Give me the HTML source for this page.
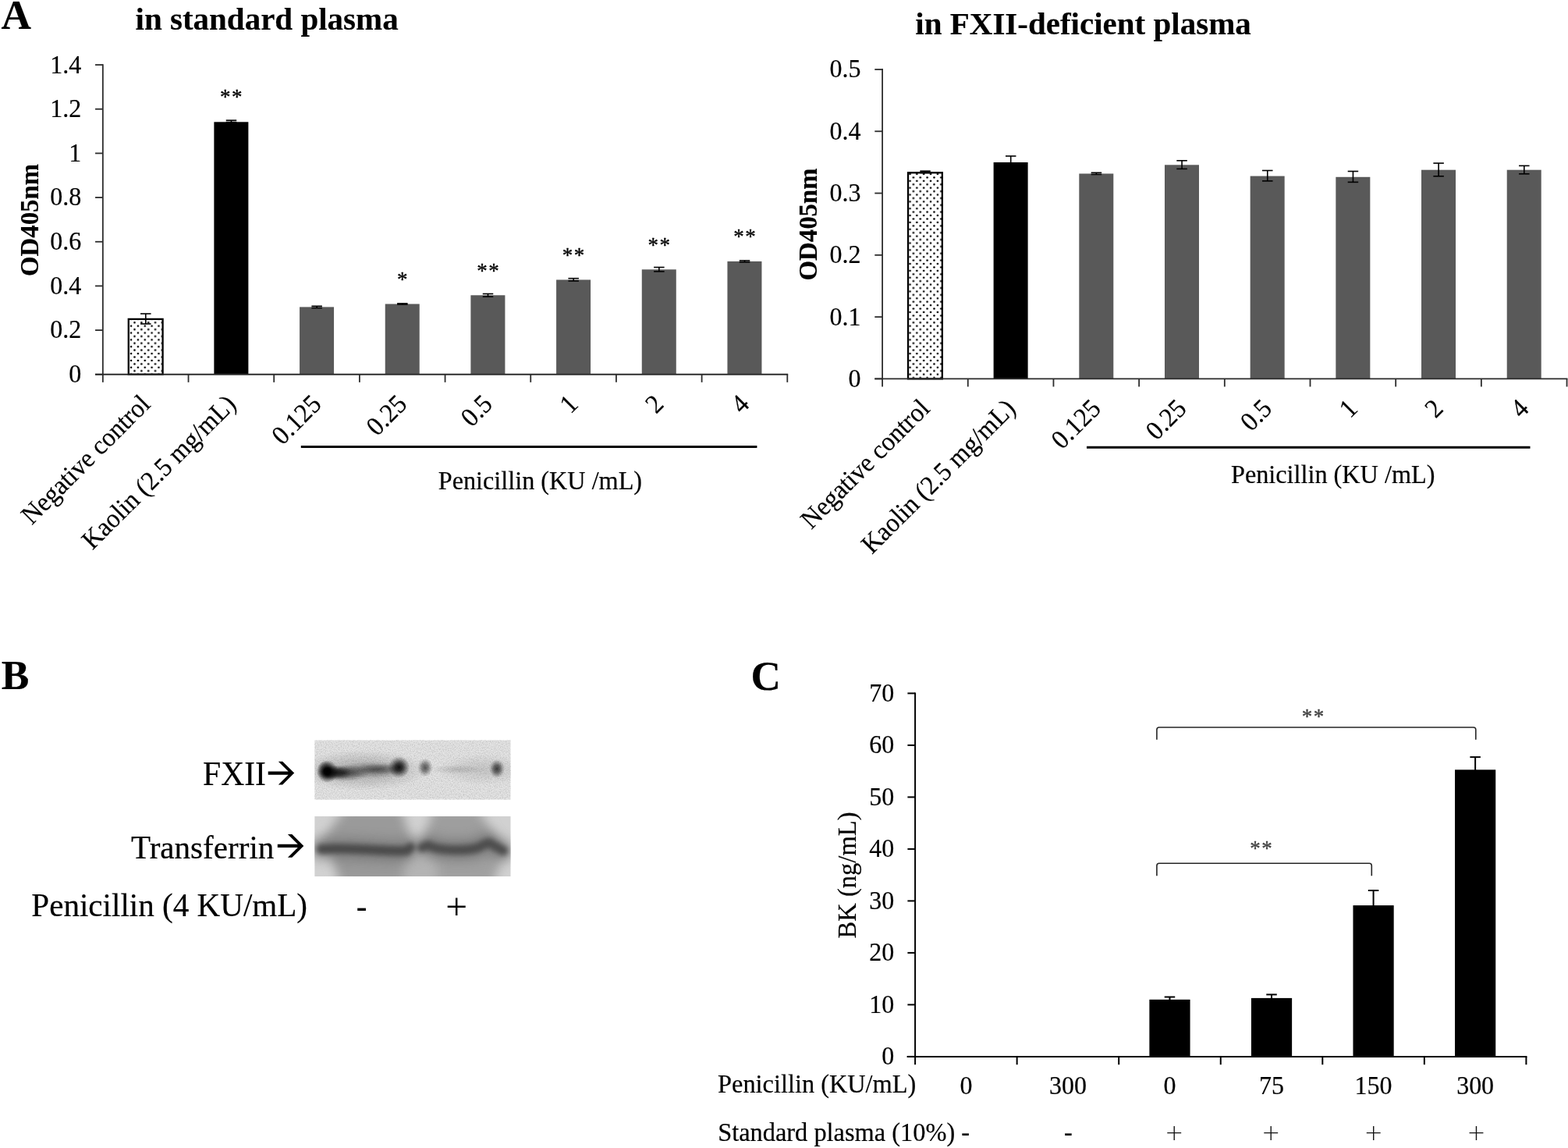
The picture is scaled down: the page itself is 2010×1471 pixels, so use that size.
<!DOCTYPE html>
<html lang="en">
<head>
<meta charset="utf-8">
<title>Figure: Penicillin activates FXII and bradykinin release</title>
<style>
html,body{margin:0;padding:0;background:#fff;}
body{width:2010px;height:1471px;overflow:hidden;}
svg{display:block;}
svg text{font-family:'Liberation Serif','DejaVu Serif',serif;stroke-linejoin:round;}
</style>
</head>
<body>
<svg width="2010" height="1471" viewBox="0 0 2010 1471">
<defs>
<pattern id="dots" x="168.06" y="408.85" width="8.85" height="8.85" patternUnits="userSpaceOnUse">
<rect width="8.85" height="8.85" fill="#fff"/>
<circle cx="0" cy="0" r="1.35" fill="#000"/><circle cx="8.85" cy="0" r="1.35" fill="#000"/><circle cx="0" cy="8.85" r="1.35" fill="#000"/><circle cx="8.85" cy="8.85" r="1.35" fill="#000"/>
<circle cx="4.425" cy="4.425" r="1.35" fill="#000"/>
</pattern>
<pattern id="dots2" x="1166.5" y="223.0" width="8.85" height="8.85" patternUnits="userSpaceOnUse">
<rect width="8.85" height="8.85" fill="#fff"/>
<circle cx="0" cy="0" r="1.35" fill="#000"/><circle cx="8.85" cy="0" r="1.35" fill="#000"/><circle cx="0" cy="8.85" r="1.35" fill="#000"/><circle cx="8.85" cy="8.85" r="1.35" fill="#000"/>
<circle cx="4.425" cy="4.425" r="1.35" fill="#000"/>
</pattern>
<radialGradient id="gk"><stop offset="0" stop-color="#000" stop-opacity="1"/><stop offset="0.3" stop-color="#000" stop-opacity="0.95"/><stop offset="0.6" stop-color="#000" stop-opacity="0.55"/><stop offset="1" stop-color="#000" stop-opacity="0"/></radialGradient>
<radialGradient id="gd"><stop offset="0" stop-color="#000" stop-opacity="0.9"/><stop offset="0.35" stop-color="#000" stop-opacity="0.7"/><stop offset="0.7" stop-color="#000" stop-opacity="0.3"/><stop offset="1" stop-color="#000" stop-opacity="0"/></radialGradient>
<radialGradient id="gm"><stop offset="0" stop-color="#000" stop-opacity="0.6"/><stop offset="0.4" stop-color="#000" stop-opacity="0.42"/><stop offset="0.75" stop-color="#000" stop-opacity="0.15"/><stop offset="1" stop-color="#000" stop-opacity="0"/></radialGradient>
<radialGradient id="gl"><stop offset="0" stop-color="#000" stop-opacity="0.35"/><stop offset="0.5" stop-color="#000" stop-opacity="0.2"/><stop offset="1" stop-color="#000" stop-opacity="0"/></radialGradient>
<radialGradient id="gf"><stop offset="0" stop-color="#000" stop-opacity="0.12"/><stop offset="0.5" stop-color="#000" stop-opacity="0.07"/><stop offset="1" stop-color="#000" stop-opacity="0"/></radialGradient>
<radialGradient id="gh"><stop offset="0" stop-color="#000" stop-opacity="0.22"/><stop offset="0.5" stop-color="#000" stop-opacity="0.14"/><stop offset="1" stop-color="#000" stop-opacity="0"/></radialGradient>
<radialGradient id="g7"><stop offset="0" stop-color="#000" stop-opacity="0.7"/><stop offset="0.4" stop-color="#000" stop-opacity="0.5"/><stop offset="0.75" stop-color="#000" stop-opacity="0.18"/><stop offset="1" stop-color="#000" stop-opacity="0"/></radialGradient>
<filter id="b3" filterUnits="userSpaceOnUse" x="370" y="1010" width="320" height="150"><feGaussianBlur stdDeviation="3"/></filter>
<filter id="b4" filterUnits="userSpaceOnUse" x="370" y="1010" width="320" height="150"><feGaussianBlur stdDeviation="4.5"/></filter>
<filter id="b7" filterUnits="userSpaceOnUse" x="370" y="1010" width="320" height="150"><feGaussianBlur stdDeviation="7"/></filter>
<filter id="noise" x="0" y="0" width="100%" height="100%"><feTurbulence type="fractalNoise" baseFrequency="0.7" numOctaves="2" seed="7" result="n"/><feColorMatrix in="n" type="matrix" values="0 0 0 0 0  0 0 0 0 0  0 0 0 0 0  1.6 0 0 0 -0.62"/></filter>
<clipPath id="c1"><rect x="403.2" y="948.3" width="251.5" height="76.5"/></clipPath>
<clipPath id="c2"><rect x="403.2" y="1046" width="251.5" height="77"/></clipPath>
</defs>
<rect width="2010" height="1471" fill="#fff"/>

<text x="1.60" y="37.30" font-size="53.3" text-anchor="start" font-weight="bold" fill="#000" stroke="#000" stroke-width="0.15">A</text>
<text x="1.70" y="883.40" font-size="53.3" text-anchor="start" font-weight="bold" fill="#000" stroke="#000" stroke-width="0.15">B</text>
<text x="962.40" y="883.50" font-size="53.3" text-anchor="start" font-weight="bold" fill="#000" stroke="#000" stroke-width="0.15">C</text>
<line x1="131.85" y1="82.20" x2="131.85" y2="480.65" stroke="#2c2c2c" stroke-width="1.8" stroke-linecap="butt"/>
<line x1="122.05" y1="479.75" x2="131.85" y2="479.75" stroke="#2c2c2c" stroke-width="1.8" stroke-linecap="butt"/>
<text x="0" y="0" transform="translate(104.25 490.15) scale(1 1.05)" font-size="32" text-anchor="end" fill="#000" stroke="#000" stroke-width="0.2">0</text>
<line x1="122.05" y1="423.09" x2="131.85" y2="423.09" stroke="#2c2c2c" stroke-width="1.8" stroke-linecap="butt"/>
<text x="0" y="0" transform="translate(104.25 433.49) scale(1 1.05)" font-size="32" text-anchor="end" fill="#000" stroke="#000" stroke-width="0.2">0.2</text>
<line x1="122.05" y1="366.42" x2="131.85" y2="366.42" stroke="#2c2c2c" stroke-width="1.8" stroke-linecap="butt"/>
<text x="0" y="0" transform="translate(104.25 376.82) scale(1 1.05)" font-size="32" text-anchor="end" fill="#000" stroke="#000" stroke-width="0.2">0.4</text>
<line x1="122.05" y1="309.76" x2="131.85" y2="309.76" stroke="#2c2c2c" stroke-width="1.8" stroke-linecap="butt"/>
<text x="0" y="0" transform="translate(104.25 320.16) scale(1 1.05)" font-size="32" text-anchor="end" fill="#000" stroke="#000" stroke-width="0.2">0.6</text>
<line x1="122.05" y1="253.09" x2="131.85" y2="253.09" stroke="#2c2c2c" stroke-width="1.8" stroke-linecap="butt"/>
<text x="0" y="0" transform="translate(104.25 263.49) scale(1 1.05)" font-size="32" text-anchor="end" fill="#000" stroke="#000" stroke-width="0.2">0.8</text>
<line x1="122.05" y1="196.43" x2="131.85" y2="196.43" stroke="#2c2c2c" stroke-width="1.8" stroke-linecap="butt"/>
<text x="0" y="0" transform="translate(104.25 206.83) scale(1 1.05)" font-size="32" text-anchor="end" fill="#000" stroke="#000" stroke-width="0.2">1</text>
<line x1="122.05" y1="139.76" x2="131.85" y2="139.76" stroke="#2c2c2c" stroke-width="1.8" stroke-linecap="butt"/>
<text x="0" y="0" transform="translate(104.25 150.16) scale(1 1.05)" font-size="32" text-anchor="end" fill="#000" stroke="#000" stroke-width="0.2">1.2</text>
<line x1="122.05" y1="83.10" x2="131.85" y2="83.10" stroke="#2c2c2c" stroke-width="1.8" stroke-linecap="butt"/>
<text x="0" y="0" transform="translate(104.25 93.50) scale(1 1.05)" font-size="32" text-anchor="end" fill="#000" stroke="#000" stroke-width="0.2">1.4</text>
<rect x="164.79" y="408.90" width="43.80" height="70.85" fill="url(#dots)" stroke="#000" stroke-width="2.3"/>
<line x1="186.79" y1="402.00" x2="186.79" y2="415.00" stroke="#000" stroke-width="1.6" stroke-linecap="butt"/>
<line x1="180.04" y1="402.00" x2="193.54" y2="402.00" stroke="#000" stroke-width="1.6" stroke-linecap="butt"/>
<line x1="180.04" y1="415.00" x2="193.54" y2="415.00" stroke="#000" stroke-width="1.6" stroke-linecap="butt"/>
<rect x="274.37" y="156.30" width="44.00" height="323.45" fill="#000"/>
<line x1="296.47" y1="154.20" x2="296.47" y2="156.50" stroke="#000" stroke-width="1.6" stroke-linecap="butt"/>
<line x1="289.72" y1="154.20" x2="303.22" y2="154.20" stroke="#000" stroke-width="1.6" stroke-linecap="butt"/>
<line x1="289.72" y1="156.50" x2="303.22" y2="156.50" stroke="#000" stroke-width="1.6" stroke-linecap="butt"/>
<text x="297.12" y="133.24" font-size="27" text-anchor="middle" letter-spacing="1.5" fill="#000" stroke="#000" stroke-width="0.35">**</text>
<rect x="384.05" y="393.40" width="44.00" height="86.35" fill="#595959"/>
<line x1="406.15" y1="392.30" x2="406.15" y2="394.60" stroke="#000" stroke-width="1.6" stroke-linecap="butt"/>
<line x1="399.40" y1="392.30" x2="412.90" y2="392.30" stroke="#000" stroke-width="1.6" stroke-linecap="butt"/>
<line x1="399.40" y1="394.60" x2="412.90" y2="394.60" stroke="#000" stroke-width="1.6" stroke-linecap="butt"/>
<rect x="493.73" y="389.50" width="44.00" height="90.25" fill="#595959"/>
<line x1="515.83" y1="388.90" x2="515.83" y2="390.10" stroke="#000" stroke-width="1.6" stroke-linecap="butt"/>
<line x1="509.08" y1="388.90" x2="522.58" y2="388.90" stroke="#000" stroke-width="1.6" stroke-linecap="butt"/>
<line x1="509.08" y1="390.10" x2="522.58" y2="390.10" stroke="#000" stroke-width="1.6" stroke-linecap="butt"/>
<text x="516.48" y="366.74" font-size="27" text-anchor="middle" letter-spacing="1.5" fill="#000" stroke="#000" stroke-width="0.35">*</text>
<rect x="603.41" y="378.30" width="44.00" height="101.45" fill="#595959"/>
<line x1="625.51" y1="376.50" x2="625.51" y2="380.10" stroke="#000" stroke-width="1.6" stroke-linecap="butt"/>
<line x1="618.76" y1="376.50" x2="632.26" y2="376.50" stroke="#000" stroke-width="1.6" stroke-linecap="butt"/>
<line x1="618.76" y1="380.10" x2="632.26" y2="380.10" stroke="#000" stroke-width="1.6" stroke-linecap="butt"/>
<text x="626.16" y="355.74" font-size="27" text-anchor="middle" letter-spacing="1.5" fill="#000" stroke="#000" stroke-width="0.35">**</text>
<rect x="713.09" y="358.50" width="44.00" height="121.25" fill="#595959"/>
<line x1="735.19" y1="356.70" x2="735.19" y2="360.00" stroke="#000" stroke-width="1.6" stroke-linecap="butt"/>
<line x1="728.44" y1="356.70" x2="741.94" y2="356.70" stroke="#000" stroke-width="1.6" stroke-linecap="butt"/>
<line x1="728.44" y1="360.00" x2="741.94" y2="360.00" stroke="#000" stroke-width="1.6" stroke-linecap="butt"/>
<text x="735.84" y="335.94" font-size="27" text-anchor="middle" letter-spacing="1.5" fill="#000" stroke="#000" stroke-width="0.35">**</text>
<rect x="822.77" y="345.30" width="44.00" height="134.45" fill="#595959"/>
<line x1="844.87" y1="342.50" x2="844.87" y2="347.90" stroke="#000" stroke-width="1.6" stroke-linecap="butt"/>
<line x1="838.12" y1="342.50" x2="851.62" y2="342.50" stroke="#000" stroke-width="1.6" stroke-linecap="butt"/>
<line x1="838.12" y1="347.90" x2="851.62" y2="347.90" stroke="#000" stroke-width="1.6" stroke-linecap="butt"/>
<text x="845.52" y="323.24" font-size="27" text-anchor="middle" letter-spacing="1.5" fill="#000" stroke="#000" stroke-width="0.35">**</text>
<rect x="932.45" y="334.90" width="44.00" height="144.85" fill="#595959"/>
<line x1="954.55" y1="333.90" x2="954.55" y2="335.90" stroke="#000" stroke-width="1.6" stroke-linecap="butt"/>
<line x1="947.80" y1="333.90" x2="961.30" y2="333.90" stroke="#000" stroke-width="1.6" stroke-linecap="butt"/>
<line x1="947.80" y1="335.90" x2="961.30" y2="335.90" stroke="#000" stroke-width="1.6" stroke-linecap="butt"/>
<text x="955.20" y="312.34" font-size="27" text-anchor="middle" letter-spacing="1.5" fill="#000" stroke="#000" stroke-width="0.35">**</text>
<line x1="122.05" y1="479.75" x2="1010.19" y2="479.75" stroke="#2c2c2c" stroke-width="1.8" stroke-linecap="butt"/>
<line x1="131.85" y1="479.75" x2="131.85" y2="489.85" stroke="#2c2c2c" stroke-width="1.8" stroke-linecap="butt"/>
<line x1="241.53" y1="479.75" x2="241.53" y2="489.85" stroke="#2c2c2c" stroke-width="1.8" stroke-linecap="butt"/>
<line x1="351.21" y1="479.75" x2="351.21" y2="489.85" stroke="#2c2c2c" stroke-width="1.8" stroke-linecap="butt"/>
<line x1="460.89" y1="479.75" x2="460.89" y2="489.85" stroke="#2c2c2c" stroke-width="1.8" stroke-linecap="butt"/>
<line x1="570.57" y1="479.75" x2="570.57" y2="489.85" stroke="#2c2c2c" stroke-width="1.8" stroke-linecap="butt"/>
<line x1="680.25" y1="479.75" x2="680.25" y2="489.85" stroke="#2c2c2c" stroke-width="1.8" stroke-linecap="butt"/>
<line x1="789.93" y1="479.75" x2="789.93" y2="489.85" stroke="#2c2c2c" stroke-width="1.8" stroke-linecap="butt"/>
<line x1="899.61" y1="479.75" x2="899.61" y2="489.85" stroke="#2c2c2c" stroke-width="1.8" stroke-linecap="butt"/>
<line x1="1009.29" y1="479.75" x2="1009.29" y2="489.85" stroke="#2c2c2c" stroke-width="1.8" stroke-linecap="butt"/>
<text x="0" y="0" transform="translate(194.39 519.75) rotate(-45) scale(1 1.05)" font-size="32.5" text-anchor="end" fill="#000" stroke="#000" stroke-width="0.2">Negative control</text>
<text x="0" y="0" transform="translate(304.07 519.75) rotate(-45) scale(1 1.05)" font-size="32.5" text-anchor="end" fill="#000" stroke="#000" stroke-width="0.2">Kaolin (2.5 mg/mL)</text>
<text x="0" y="0" transform="translate(413.75 519.75) rotate(-45) scale(1 1.05)" font-size="32.5" text-anchor="end" fill="#000" stroke="#000" stroke-width="0.2">0.125</text>
<text x="0" y="0" transform="translate(523.43 519.75) rotate(-45) scale(1 1.05)" font-size="32.5" text-anchor="end" fill="#000" stroke="#000" stroke-width="0.2">0.25</text>
<text x="0" y="0" transform="translate(633.11 519.75) rotate(-45) scale(1 1.05)" font-size="32.5" text-anchor="end" fill="#000" stroke="#000" stroke-width="0.2">0.5</text>
<text x="0" y="0" transform="translate(742.79 519.75) rotate(-45) scale(1 1.05)" font-size="32.5" text-anchor="end" fill="#000" stroke="#000" stroke-width="0.2">1</text>
<text x="0" y="0" transform="translate(852.47 519.75) rotate(-45) scale(1 1.05)" font-size="32.5" text-anchor="end" fill="#000" stroke="#000" stroke-width="0.2">2</text>
<text x="0" y="0" transform="translate(962.15 519.75) rotate(-45) scale(1 1.05)" font-size="32.5" text-anchor="end" fill="#000" stroke="#000" stroke-width="0.2">4</text>
<line x1="385.80" y1="572.50" x2="970.40" y2="572.50" stroke="#000" stroke-width="3" stroke-linecap="butt"/>
<text x="0" y="0" transform="translate(561.70 627.30) scale(1 1.05)" font-size="32.25" text-anchor="start" fill="#000" stroke="#000" stroke-width="0.2">Penicillin (KU /mL)</text>
<text x="173.50" y="37.70" font-size="41" text-anchor="start" font-weight="bold" fill="#000" stroke="#000" stroke-width="0.15">in standard plasma</text>
<text x="0" y="0" transform="translate(48.60 282.00) rotate(-90) scale(1 1.02)" font-size="32.8" text-anchor="middle" font-weight="bold" fill="#000" stroke="#000" stroke-width="0.15">OD405nm</text>
<line x1="1131.10" y1="88.10" x2="1131.10" y2="486.30" stroke="#2c2c2c" stroke-width="1.8" stroke-linecap="butt"/>
<line x1="1121.30" y1="485.40" x2="1131.10" y2="485.40" stroke="#2c2c2c" stroke-width="1.8" stroke-linecap="butt"/>
<text x="0" y="0" transform="translate(1103.50 495.80) scale(1 1.05)" font-size="32" text-anchor="end" fill="#000" stroke="#000" stroke-width="0.2">0</text>
<line x1="1121.30" y1="406.12" x2="1131.10" y2="406.12" stroke="#2c2c2c" stroke-width="1.8" stroke-linecap="butt"/>
<text x="0" y="0" transform="translate(1103.50 416.52) scale(1 1.05)" font-size="32" text-anchor="end" fill="#000" stroke="#000" stroke-width="0.2">0.1</text>
<line x1="1121.30" y1="326.84" x2="1131.10" y2="326.84" stroke="#2c2c2c" stroke-width="1.8" stroke-linecap="butt"/>
<text x="0" y="0" transform="translate(1103.50 337.24) scale(1 1.05)" font-size="32" text-anchor="end" fill="#000" stroke="#000" stroke-width="0.2">0.2</text>
<line x1="1121.30" y1="247.56" x2="1131.10" y2="247.56" stroke="#2c2c2c" stroke-width="1.8" stroke-linecap="butt"/>
<text x="0" y="0" transform="translate(1103.50 257.96) scale(1 1.05)" font-size="32" text-anchor="end" fill="#000" stroke="#000" stroke-width="0.2">0.3</text>
<line x1="1121.30" y1="168.28" x2="1131.10" y2="168.28" stroke="#2c2c2c" stroke-width="1.8" stroke-linecap="butt"/>
<text x="0" y="0" transform="translate(1103.50 178.68) scale(1 1.05)" font-size="32" text-anchor="end" fill="#000" stroke="#000" stroke-width="0.2">0.4</text>
<line x1="1121.30" y1="89.00" x2="1131.10" y2="89.00" stroke="#2c2c2c" stroke-width="1.8" stroke-linecap="butt"/>
<text x="0" y="0" transform="translate(1103.50 99.40) scale(1 1.05)" font-size="32" text-anchor="end" fill="#000" stroke="#000" stroke-width="0.2">0.5</text>
<rect x="1164.04" y="221.30" width="43.80" height="264.10" fill="url(#dots2)" stroke="#000" stroke-width="2.3"/>
<line x1="1186.04" y1="219.20" x2="1186.04" y2="221.40" stroke="#000" stroke-width="1.6" stroke-linecap="butt"/>
<line x1="1179.29" y1="219.20" x2="1192.79" y2="219.20" stroke="#000" stroke-width="1.6" stroke-linecap="butt"/>
<line x1="1179.29" y1="221.40" x2="1192.79" y2="221.40" stroke="#000" stroke-width="1.6" stroke-linecap="butt"/>
<rect x="1273.62" y="208.00" width="44.00" height="277.40" fill="#000"/>
<line x1="1295.72" y1="200.00" x2="1295.72" y2="216.00" stroke="#000" stroke-width="1.6" stroke-linecap="butt"/>
<line x1="1288.97" y1="200.00" x2="1302.47" y2="200.00" stroke="#000" stroke-width="1.6" stroke-linecap="butt"/>
<line x1="1288.97" y1="216.00" x2="1302.47" y2="216.00" stroke="#000" stroke-width="1.6" stroke-linecap="butt"/>
<rect x="1383.30" y="222.50" width="44.00" height="262.90" fill="#595959"/>
<line x1="1405.40" y1="221.30" x2="1405.40" y2="223.50" stroke="#000" stroke-width="1.6" stroke-linecap="butt"/>
<line x1="1398.65" y1="221.30" x2="1412.15" y2="221.30" stroke="#000" stroke-width="1.6" stroke-linecap="butt"/>
<line x1="1398.65" y1="223.50" x2="1412.15" y2="223.50" stroke="#000" stroke-width="1.6" stroke-linecap="butt"/>
<rect x="1492.98" y="211.30" width="44.00" height="274.10" fill="#595959"/>
<line x1="1515.08" y1="205.80" x2="1515.08" y2="216.40" stroke="#000" stroke-width="1.6" stroke-linecap="butt"/>
<line x1="1508.33" y1="205.80" x2="1521.83" y2="205.80" stroke="#000" stroke-width="1.6" stroke-linecap="butt"/>
<line x1="1508.33" y1="216.40" x2="1521.83" y2="216.40" stroke="#000" stroke-width="1.6" stroke-linecap="butt"/>
<rect x="1602.66" y="225.60" width="44.00" height="259.80" fill="#595959"/>
<line x1="1624.76" y1="218.50" x2="1624.76" y2="231.90" stroke="#000" stroke-width="1.6" stroke-linecap="butt"/>
<line x1="1618.01" y1="218.50" x2="1631.51" y2="218.50" stroke="#000" stroke-width="1.6" stroke-linecap="butt"/>
<line x1="1618.01" y1="231.90" x2="1631.51" y2="231.90" stroke="#000" stroke-width="1.6" stroke-linecap="butt"/>
<rect x="1712.34" y="226.80" width="44.00" height="258.60" fill="#595959"/>
<line x1="1734.44" y1="219.50" x2="1734.44" y2="233.40" stroke="#000" stroke-width="1.6" stroke-linecap="butt"/>
<line x1="1727.69" y1="219.50" x2="1741.19" y2="219.50" stroke="#000" stroke-width="1.6" stroke-linecap="butt"/>
<line x1="1727.69" y1="233.40" x2="1741.19" y2="233.40" stroke="#000" stroke-width="1.6" stroke-linecap="butt"/>
<rect x="1822.02" y="217.70" width="44.00" height="267.70" fill="#595959"/>
<line x1="1844.12" y1="209.10" x2="1844.12" y2="225.80" stroke="#000" stroke-width="1.6" stroke-linecap="butt"/>
<line x1="1837.37" y1="209.10" x2="1850.87" y2="209.10" stroke="#000" stroke-width="1.6" stroke-linecap="butt"/>
<line x1="1837.37" y1="225.80" x2="1850.87" y2="225.80" stroke="#000" stroke-width="1.6" stroke-linecap="butt"/>
<rect x="1931.70" y="217.70" width="44.00" height="267.70" fill="#595959"/>
<line x1="1953.80" y1="212.40" x2="1953.80" y2="222.80" stroke="#000" stroke-width="1.6" stroke-linecap="butt"/>
<line x1="1947.05" y1="212.40" x2="1960.55" y2="212.40" stroke="#000" stroke-width="1.6" stroke-linecap="butt"/>
<line x1="1947.05" y1="222.80" x2="1960.55" y2="222.80" stroke="#000" stroke-width="1.6" stroke-linecap="butt"/>
<line x1="1121.30" y1="485.40" x2="2009.44" y2="485.40" stroke="#2c2c2c" stroke-width="1.8" stroke-linecap="butt"/>
<line x1="1131.10" y1="485.40" x2="1131.10" y2="495.50" stroke="#2c2c2c" stroke-width="1.8" stroke-linecap="butt"/>
<line x1="1240.78" y1="485.40" x2="1240.78" y2="495.50" stroke="#2c2c2c" stroke-width="1.8" stroke-linecap="butt"/>
<line x1="1350.46" y1="485.40" x2="1350.46" y2="495.50" stroke="#2c2c2c" stroke-width="1.8" stroke-linecap="butt"/>
<line x1="1460.14" y1="485.40" x2="1460.14" y2="495.50" stroke="#2c2c2c" stroke-width="1.8" stroke-linecap="butt"/>
<line x1="1569.82" y1="485.40" x2="1569.82" y2="495.50" stroke="#2c2c2c" stroke-width="1.8" stroke-linecap="butt"/>
<line x1="1679.50" y1="485.40" x2="1679.50" y2="495.50" stroke="#2c2c2c" stroke-width="1.8" stroke-linecap="butt"/>
<line x1="1789.18" y1="485.40" x2="1789.18" y2="495.50" stroke="#2c2c2c" stroke-width="1.8" stroke-linecap="butt"/>
<line x1="1898.86" y1="485.40" x2="1898.86" y2="495.50" stroke="#2c2c2c" stroke-width="1.8" stroke-linecap="butt"/>
<line x1="2008.54" y1="485.40" x2="2008.54" y2="495.50" stroke="#2c2c2c" stroke-width="1.8" stroke-linecap="butt"/>
<text x="0" y="0" transform="translate(1193.64 525.40) rotate(-45) scale(1 1.05)" font-size="32.5" text-anchor="end" fill="#000" stroke="#000" stroke-width="0.2">Negative control</text>
<text x="0" y="0" transform="translate(1303.32 525.40) rotate(-45) scale(1 1.05)" font-size="32.5" text-anchor="end" fill="#000" stroke="#000" stroke-width="0.2">Kaolin (2.5 mg/mL)</text>
<text x="0" y="0" transform="translate(1413.00 525.40) rotate(-45) scale(1 1.05)" font-size="32.5" text-anchor="end" fill="#000" stroke="#000" stroke-width="0.2">0.125</text>
<text x="0" y="0" transform="translate(1522.68 525.40) rotate(-45) scale(1 1.05)" font-size="32.5" text-anchor="end" fill="#000" stroke="#000" stroke-width="0.2">0.25</text>
<text x="0" y="0" transform="translate(1632.36 525.40) rotate(-45) scale(1 1.05)" font-size="32.5" text-anchor="end" fill="#000" stroke="#000" stroke-width="0.2">0.5</text>
<text x="0" y="0" transform="translate(1742.04 525.40) rotate(-45) scale(1 1.05)" font-size="32.5" text-anchor="end" fill="#000" stroke="#000" stroke-width="0.2">1</text>
<text x="0" y="0" transform="translate(1851.72 525.40) rotate(-45) scale(1 1.05)" font-size="32.5" text-anchor="end" fill="#000" stroke="#000" stroke-width="0.2">2</text>
<text x="0" y="0" transform="translate(1961.40 525.40) rotate(-45) scale(1 1.05)" font-size="32.5" text-anchor="end" fill="#000" stroke="#000" stroke-width="0.2">4</text>
<line x1="1393.00" y1="573.20" x2="1961.50" y2="573.20" stroke="#000" stroke-width="3" stroke-linecap="butt"/>
<text x="0" y="0" transform="translate(1578.00 619.40) scale(1 1.05)" font-size="32.25" text-anchor="start" fill="#000" stroke="#000" stroke-width="0.2">Penicillin (KU /mL)</text>
<text x="1173.30" y="43.50" font-size="41" text-anchor="start" font-weight="bold" fill="#000" stroke="#000" stroke-width="0.15">in FXII-deficient plasma</text>
<text x="0" y="0" transform="translate(1047.10 287.50) rotate(-90) scale(1 1.02)" font-size="32.8" text-anchor="middle" font-weight="bold" fill="#000" stroke="#000" stroke-width="0.15">OD405nm</text>
<text x="0" y="0" transform="translate(260.00 1005.90) scale(1 1.05)" font-size="41.6" text-anchor="start" fill="#000" stroke="#000" stroke-width="0.2">FXII</text>
<text x="0" y="0" transform="translate(168.00 1099.60) scale(1 1.05)" font-size="41.1" text-anchor="start" fill="#000" stroke="#000" stroke-width="0.2">Transferrin</text>
<text x="0" y="0" transform="translate(40.30 1174.00) scale(1 1.05)" font-size="41.1" text-anchor="start" fill="#000" stroke="#000" stroke-width="0.2">Penicillin (4 KU/mL)</text>
<polygon points="377.20,990.60 362.20,975.80 356.80,975.80 369.65,988.48 343.70,988.48 343.70,992.73 369.65,992.73 356.80,1005.40 362.20,1005.40" fill="#000"/>
<polygon points="389.30,1083.90 374.30,1069.10 368.90,1069.10 381.75,1081.78 355.80,1081.78 355.80,1086.03 381.75,1086.03 368.90,1098.70 374.30,1098.70" fill="#000"/>
<text x="0" y="0" transform="translate(463.50 1174.50) scale(1 1.05)" font-size="41" text-anchor="middle" fill="#000" stroke="#000" stroke-width="0.2">-</text>
<text x="585.30" y="1178.20" font-size="49.5" text-anchor="middle" fill="#000">+</text>
<g clip-path="url(#c1)">
<rect x="403.20" y="948.30" width="251.50" height="76.50" fill="#e4e4e4"/>
<ellipse cx="465" cy="987" rx="85" ry="26" fill="url(#gh)"/>
<ellipse cx="620" cy="986" rx="60" ry="20" fill="url(#gf)"/>
<ellipse cx="440" cy="990.5" rx="34" ry="11" fill="url(#gm)"/>
<ellipse cx="431" cy="990" rx="20" ry="9" fill="url(#g7)"/>
<ellipse cx="478" cy="986.5" rx="46" ry="11" fill="url(#gl)"/>
<ellipse cx="486" cy="985.5" rx="30" ry="7" fill="url(#gl)"/>
<ellipse cx="419.5" cy="988.5" rx="14" ry="14.5" fill="url(#gk)"/>
<ellipse cx="416.5" cy="986" rx="9" ry="12" fill="url(#gl)"/>
<ellipse cx="511.5" cy="983" rx="14" ry="14" fill="url(#gd)"/>
<ellipse cx="545" cy="983.5" rx="10" ry="12" fill="url(#gm)"/>
<ellipse cx="585" cy="986" rx="35" ry="6" fill="url(#gf)"/>
<ellipse cx="637" cy="985" rx="10" ry="12" fill="url(#g7)"/>
<rect x="403.2" y="948.3" width="251.5" height="76.5" filter="url(#noise)" opacity="0.2"/>
</g>
<g clip-path="url(#c2)">
<rect x="403.20" y="1046.00" width="251.50" height="77.00" fill="#d1d1d1"/>
<g filter="url(#b7)">
<path d="M443 1036H514L530 1086H405Z" fill="#9a9a9a"/>
<path d="M556 1036H612L646 1089H538Z" fill="#9e9e9e"/>
<path d="M422 1090H528L520 1135H437Z" fill="#999"/>
<path d="M546 1090H646L632 1135H556Z" fill="#a0a0a0"/>
<path d="M518 1100H560V1135H518Z" fill="#b4b4b4"/>
</g><g filter="url(#b7)" opacity="0.55">
<path d="M412 1088C440 1086 470 1089 500 1090S520 1089 526 1086" fill="none" stroke="#666" stroke-width="28" stroke-linecap="round"/>
<path d="M541 1086L549 1083C560 1090 590 1090 605 1088S620 1080 627 1080L645 1090" fill="none" stroke="#666" stroke-width="28" stroke-linecap="round" stroke-linejoin="round"/>
</g><g filter="url(#b3)">
<path d="M412 1088C440 1086 470 1089 500 1090S520 1089 526 1086" fill="none" stroke="#4c4c4c" stroke-width="12.5" stroke-linecap="round"/>
<path d="M541 1086L549 1083C560 1090 590 1090 605 1088S620 1080 627 1080L645 1090" fill="none" stroke="#4e4e4e" stroke-width="12" stroke-linecap="round" stroke-linejoin="round"/>
</g></g>
<line x1="1173.10" y1="887.40" x2="1173.10" y2="1354.90" stroke="#000" stroke-width="2" stroke-linecap="butt"/>
<line x1="1163.40" y1="1353.90" x2="1173.10" y2="1353.90" stroke="#000" stroke-width="2" stroke-linecap="butt"/>
<text x="0" y="0" transform="translate(1146.30 1364.40) scale(1 1.05)" font-size="32" text-anchor="end" fill="#000" stroke="#000" stroke-width="0.2">0</text>
<line x1="1163.40" y1="1287.40" x2="1173.10" y2="1287.40" stroke="#000" stroke-width="2" stroke-linecap="butt"/>
<text x="0" y="0" transform="translate(1146.30 1297.90) scale(1 1.05)" font-size="32" text-anchor="end" fill="#000" stroke="#000" stroke-width="0.2">10</text>
<line x1="1163.40" y1="1220.90" x2="1173.10" y2="1220.90" stroke="#000" stroke-width="2" stroke-linecap="butt"/>
<text x="0" y="0" transform="translate(1146.30 1231.40) scale(1 1.05)" font-size="32" text-anchor="end" fill="#000" stroke="#000" stroke-width="0.2">20</text>
<line x1="1163.40" y1="1154.40" x2="1173.10" y2="1154.40" stroke="#000" stroke-width="2" stroke-linecap="butt"/>
<text x="0" y="0" transform="translate(1146.30 1164.90) scale(1 1.05)" font-size="32" text-anchor="end" fill="#000" stroke="#000" stroke-width="0.2">30</text>
<line x1="1163.40" y1="1087.90" x2="1173.10" y2="1087.90" stroke="#000" stroke-width="2" stroke-linecap="butt"/>
<text x="0" y="0" transform="translate(1146.30 1098.40) scale(1 1.05)" font-size="32" text-anchor="end" fill="#000" stroke="#000" stroke-width="0.2">40</text>
<line x1="1163.40" y1="1021.40" x2="1173.10" y2="1021.40" stroke="#000" stroke-width="2" stroke-linecap="butt"/>
<text x="0" y="0" transform="translate(1146.30 1031.90) scale(1 1.05)" font-size="32" text-anchor="end" fill="#000" stroke="#000" stroke-width="0.2">50</text>
<line x1="1163.40" y1="954.90" x2="1173.10" y2="954.90" stroke="#000" stroke-width="2" stroke-linecap="butt"/>
<text x="0" y="0" transform="translate(1146.30 965.40) scale(1 1.05)" font-size="32" text-anchor="end" fill="#000" stroke="#000" stroke-width="0.2">60</text>
<line x1="1163.40" y1="888.40" x2="1173.10" y2="888.40" stroke="#000" stroke-width="2" stroke-linecap="butt"/>
<text x="0" y="0" transform="translate(1146.30 898.90) scale(1 1.05)" font-size="32" text-anchor="end" fill="#000" stroke="#000" stroke-width="0.2">70</text>
<line x1="1162.60" y1="1353.90" x2="1957.40" y2="1353.90" stroke="#000" stroke-width="2" stroke-linecap="butt"/>
<line x1="1173.10" y1="1353.90" x2="1173.10" y2="1364.20" stroke="#000" stroke-width="2" stroke-linecap="butt"/>
<line x1="1303.65" y1="1353.90" x2="1303.65" y2="1364.20" stroke="#000" stroke-width="2" stroke-linecap="butt"/>
<line x1="1434.20" y1="1353.90" x2="1434.20" y2="1364.20" stroke="#000" stroke-width="2" stroke-linecap="butt"/>
<line x1="1564.75" y1="1353.90" x2="1564.75" y2="1364.20" stroke="#000" stroke-width="2" stroke-linecap="butt"/>
<line x1="1695.30" y1="1353.90" x2="1695.30" y2="1364.20" stroke="#000" stroke-width="2" stroke-linecap="butt"/>
<line x1="1825.85" y1="1353.90" x2="1825.85" y2="1364.20" stroke="#000" stroke-width="2" stroke-linecap="butt"/>
<line x1="1956.40" y1="1353.90" x2="1956.40" y2="1364.20" stroke="#000" stroke-width="2" stroke-linecap="butt"/>
<text x="0" y="0" transform="translate(1238.38 1402.00) scale(1 1.05)" font-size="32" text-anchor="middle" fill="#000" stroke="#000" stroke-width="0.2">0</text>
<text x="0" y="0" transform="translate(1368.92 1402.00) scale(1 1.05)" font-size="32" text-anchor="middle" fill="#000" stroke="#000" stroke-width="0.2">300</text>
<rect x="1473.38" y="1280.80" width="52.20" height="73.10" fill="#000"/>
<line x1="1499.47" y1="1277.50" x2="1499.47" y2="1281.80" stroke="#000" stroke-width="2" stroke-linecap="butt"/>
<line x1="1492.72" y1="1277.50" x2="1506.22" y2="1277.50" stroke="#000" stroke-width="2" stroke-linecap="butt"/>
<text x="0" y="0" transform="translate(1499.47 1402.00) scale(1 1.05)" font-size="32" text-anchor="middle" fill="#000" stroke="#000" stroke-width="0.2">0</text>
<rect x="1603.93" y="1278.90" width="52.20" height="75.00" fill="#000"/>
<line x1="1630.03" y1="1274.40" x2="1630.03" y2="1279.90" stroke="#000" stroke-width="2" stroke-linecap="butt"/>
<line x1="1623.28" y1="1274.40" x2="1636.78" y2="1274.40" stroke="#000" stroke-width="2" stroke-linecap="butt"/>
<text x="0" y="0" transform="translate(1630.03 1402.00) scale(1 1.05)" font-size="32" text-anchor="middle" fill="#000" stroke="#000" stroke-width="0.2">75</text>
<rect x="1734.47" y="1160.10" width="52.20" height="193.80" fill="#000"/>
<line x1="1760.57" y1="1141.00" x2="1760.57" y2="1161.10" stroke="#000" stroke-width="2" stroke-linecap="butt"/>
<line x1="1753.82" y1="1141.00" x2="1767.32" y2="1141.00" stroke="#000" stroke-width="2" stroke-linecap="butt"/>
<text x="0" y="0" transform="translate(1760.57 1402.00) scale(1 1.05)" font-size="32" text-anchor="middle" fill="#000" stroke="#000" stroke-width="0.2">150</text>
<rect x="1865.03" y="986.30" width="52.20" height="367.60" fill="#000"/>
<line x1="1891.12" y1="970.10" x2="1891.12" y2="987.30" stroke="#000" stroke-width="2" stroke-linecap="butt"/>
<line x1="1884.38" y1="970.10" x2="1897.88" y2="970.10" stroke="#000" stroke-width="2" stroke-linecap="butt"/>
<text x="0" y="0" transform="translate(1891.12 1402.00) scale(1 1.05)" font-size="32" text-anchor="middle" fill="#000" stroke="#000" stroke-width="0.2">300</text>
<text x="0" y="0" transform="translate(920.10 1400.00) scale(1 1.05)" font-size="32.35" text-anchor="start" fill="#000" stroke="#000" stroke-width="0.2">Penicillin (KU/mL)</text>
<text x="0" y="0" transform="translate(920.20 1462.00) scale(1 1.05)" font-size="32.4" text-anchor="start" fill="#000" stroke="#000" stroke-width="0.2">Standard plasma (10%) -</text>
<text x="0" y="0" transform="translate(1369.50 1462.00) scale(1 1.05)" font-size="32.3" text-anchor="middle" fill="#000" stroke="#000" stroke-width="0.2">-</text>
<text x="1505.20" y="1461.1" font-size="28.6" text-anchor="middle" font-weight="200" style="font-family:'DejaVu Sans','Liberation Sans',sans-serif" fill="#111">+</text>
<text x="1629.20" y="1461.1" font-size="28.6" text-anchor="middle" font-weight="200" style="font-family:'DejaVu Sans','Liberation Sans',sans-serif" fill="#111">+</text>
<text x="1760.70" y="1461.1" font-size="28.6" text-anchor="middle" font-weight="200" style="font-family:'DejaVu Sans','Liberation Sans',sans-serif" fill="#111">+</text>
<text x="1892.50" y="1461.1" font-size="28.6" text-anchor="middle" font-weight="200" style="font-family:'DejaVu Sans','Liberation Sans',sans-serif" fill="#111">+</text>
<text x="0" y="0" transform="translate(1097.30 1121.50) rotate(-90) scale(1 1.05)" font-size="32.6" text-anchor="middle" fill="#000" stroke="#000" stroke-width="0.2">BK (ng/mL)</text>
<path d="M1482.9 947.7V935.0Q1482.9 932.0 1485.9 932.0H1888.8Q1891.8 932.0 1891.8 935.0V947.7" fill="none" stroke="#262626" stroke-width="1.6"/>
<path d="M1482.9 1122.3V1109.2Q1482.9 1106.2 1485.9 1106.2H1755.3Q1758.3 1106.2 1758.3 1109.2V1122.3" fill="none" stroke="#262626" stroke-width="1.6"/>
<text x="1683.65" y="927.34" font-size="27" text-anchor="middle" letter-spacing="1.5" fill="#404040" stroke="#404040" stroke-width="0.35">**</text>
<text x="1617.25" y="1095.74" font-size="27" text-anchor="middle" letter-spacing="1.5" fill="#404040" stroke="#404040" stroke-width="0.35">**</text>
</svg>
</body>
</html>
